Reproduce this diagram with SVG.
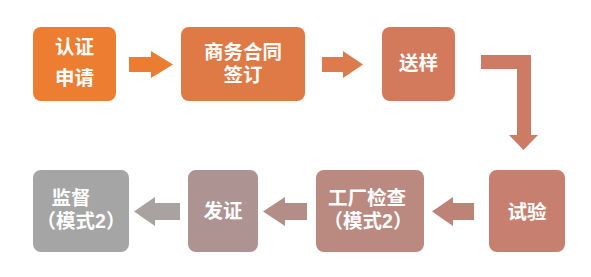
<svg xmlns="http://www.w3.org/2000/svg" width="591" height="277" viewBox="0 0 591 277">
<style>
  text { font-family: "Liberation Sans", "Noto Sans CJK SC", sans-serif; font-size: 19.5px; font-weight: bold; fill: #ffffff; text-anchor: middle; dominant-baseline: central; }
</style>
<rect width="591" height="277" fill="#ffffff"/>
<g id="connectors">
  <path d="M129,57 H151 V51 L173,64.5 L151,78 V72 H129 Z" fill="#EB7D33"/>
  <path d="M322,57 H343 V51 L363,64.5 L343,78 V72 H322 Z" fill="#DC7B4D"/>
  <path d="M481,55 H531 V135 H538 L523.5,150 L509,135 H517 V69 H481 Z" fill="#CD7B65"/>
  <path d="M474,203 H453 V197 L432,211.5 L453,226 V220 H474 Z" fill="#BF8276"/>
  <path d="M307,203 H285 V197 L263,211.5 L285,226 V220 H307 Z" fill="#B38E89"/>
  <path d="M180,203 H155 V197 L134,211.5 L155,226 V220 H180 Z" fill="#A8A2A1"/>
</g>
<g id="node-renzheng">
  <rect x="33" y="27" width="83" height="74" rx="8" fill="#ED7D31"/>
  <text x="74.5" y="47">认证</text>
  <text x="74.5" y="78">申请</text>
</g>
<g id="node-shangwu">
  <rect x="181" y="27" width="124" height="74" rx="8" fill="#DF7A47"/>
  <text x="243" y="51.5">商务合同</text>
  <text x="243" y="74.5">签订</text>
</g>
<g id="node-songyang">
  <rect x="382" y="27" width="73" height="74" rx="8" fill="#D47A5C"/>
  <text x="418.5" y="63">送样</text>
</g>
<g id="node-shiyan">
  <rect x="489" y="170" width="76" height="82" rx="8" fill="#C7806F"/>
  <text x="527" y="212">试验</text>
</g>
<g id="node-gongchang">
  <rect x="316" y="170" width="108" height="82" rx="8" fill="#BA897F"/>
  <text x="367" y="198">工厂检查</text>
  <text x="368" y="221">（模式2）</text>
</g>
<g id="node-fazheng">
  <rect x="188" y="170" width="70" height="82" rx="8" fill="#AD9391"/>
  <text x="223" y="211">发证</text>
</g>
<g id="node-jiandu">
  <rect x="33" y="170" width="96" height="82" rx="8" fill="#A5A5A5"/>
  <text x="71" y="198">监督</text>
  <text x="81" y="221">（模式2）</text>
</g>
</svg>
